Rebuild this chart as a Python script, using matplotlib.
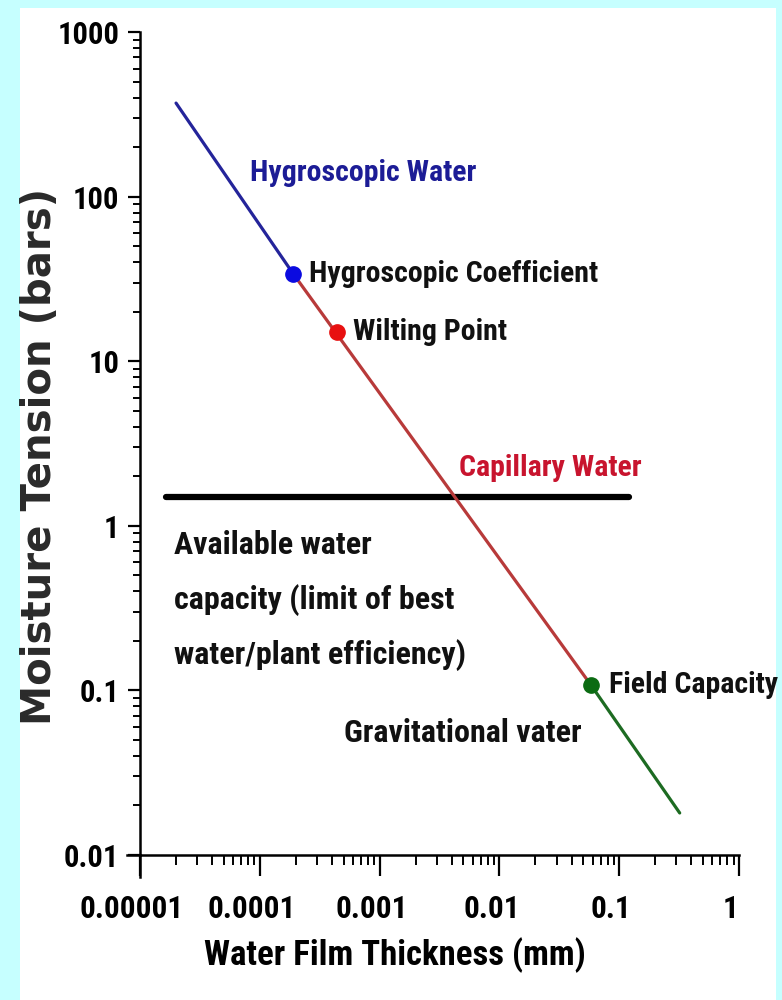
import numpy as np
import matplotlib
matplotlib.use("Agg")
import matplotlib.pyplot as plt
from matplotlib.patches import Rectangle
from matplotlib.transforms import ScaledTranslation

# line segments (water film thickness mm, moisture tension bars)
hygro_x = [2.0e-5, 1.9e-4]
hygro_y = [370, 34]
capil_x = [1.9e-4, 0.058]
capil_y = [34, 0.108]
grav_x = [0.058, 0.32]
grav_y = [0.108, 0.018]

# marked points
pt_names = ["Hygroscopic Coefficient", "Wilting Point", "Field Capacity"]
pt_x = [1.9e-4, 4.4e-4, 0.058]
pt_y = [34, 15.0, 0.108]
pt_colors = ["#0a0ae0", "#e81010", "#0b6b12"]

# available water limit line
limit_y = 1.5
limit_x = [1.65e-5, 0.12]

avail_lines = ["Available water", "capacity (limit of best", "water/plant efficiency)"]
avail_y = [0.764, 0.354, 0.164]

xticks = [1e-5, 1e-4, 1e-3, 1e-2, 1e-1, 1]
xlabels = ["0.00001", "0.0001", "0.001", "0.01", "0.1", "1"]
yticks = [0.01, 0.1, 1, 10, 100, 1000]
ylabels = ["0.01", "0.1", "1", "10", "100", "1000"]

narrow = ["Roboto Condensed", "Liberation Sans Narrow", "Roboto", "DejaVu Sans"]
fkw = dict(family=narrow, stretch="condensed", weight="bold")

fig = plt.figure(figsize=(7.82, 10), dpi=100)
fig.patch.set_facecolor("#c6ffff")
fig.add_artist(Rectangle((20 / 782, 0), 756 / 782, 0.992, transform=fig.transFigure,
                         facecolor="white", edgecolor="none", zorder=0))

ax = fig.add_axes([0.179, 0.145, 0.766, 0.823])
ax.set_facecolor("none")
ax.set_xscale("log")
ax.set_yscale("log")
ax.set_xlim(1e-5, 1)
ax.set_ylim(0.01, 1000)

ax.plot(hygro_x, hygro_y, color="#24249a", lw=2.3, solid_capstyle="round", zorder=3)
ax.plot(capil_x, capil_y, color="#b83a3a", lw=2.3, solid_capstyle="round", zorder=3)
ax.plot(grav_x, grav_y, color="#1d6b22", lw=2.3, solid_capstyle="round", zorder=3)
ax.plot(limit_x, [limit_y, limit_y], color="black", lw=4.5, solid_capstyle="round", zorder=2)
for x, y, c in zip(pt_x, pt_y, pt_colors):
    ax.plot(x, y, "o", color=c, ms=11, zorder=4)

tsize = 21.5
bsize = 23
ax.text(8.3e-5, 139, "Hygroscopic Water", color="#1c1c96", fontsize=tsize, va="center", **fkw)
ax.text(2.6e-4, 34, pt_names[0], color="#111111", fontsize=tsize, va="center", **fkw)
ax.text(5.96e-4, 15.0, pt_names[1], color="#111111", fontsize=tsize, va="center", **fkw)
ax.text(0.0826, 0.108, pt_names[2], color="#111111", fontsize=tsize, va="center", **fkw)
ax.text(4.64e-3, 2.24, "Capillary Water", color="#c8142e", fontsize=tsize, va="center", **fkw)
for line, y in zip(avail_lines, avail_y):
    ax.text(1.92e-5, y, line, color="#111111", fontsize=bsize, va="center", **fkw)
ax.text(5.0e-4, 0.055, "Gravitational vater", color="#111111", fontsize=bsize, va="center", **fkw)

# axes styling
for s in ["top", "right"]:
    ax.spines[s].set_visible(False)
for s in ["left", "bottom"]:
    ax.spines[s].set_linewidth(1.8)
ax.set_xticks(xticks)
ax.set_xticklabels(xlabels, fontsize=22.5, **fkw)
ax.set_yticks(yticks)
ax.set_yticklabels(ylabels, fontsize=22, **fkw)
ax.tick_params(axis="x", which="major", length=15, width=1.6, pad=13)
ax.tick_params(axis="x", which="minor", length=7, width=1.4)
ax.tick_params(axis="y", which="major", length=9, width=1.6, pad=6)
ax.tick_params(axis="y", which="minor", length=5, width=1.4)
off = ScaledTranslation(-8 / 100, 0, fig.dpi_scale_trans)
for lab in ax.get_xticklabels():
    lab.set_transform(lab.get_transform() + off)

# axis lines run a little past the corner
ax.plot([-0.022, 0], [0, 0], transform=ax.transAxes, color="black", lw=1.8, clip_on=False)
ax.plot([0, 0], [-0.027, 0], transform=ax.transAxes, color="black", lw=1.8, clip_on=False)

ax.set_xlabel("Water Film Thickness (mm)", fontsize=25, va="center", **fkw)
ax.xaxis.set_label_coords(0.426, -0.1215)
ax.set_ylabel("Moisture Tension (bars)", family="DejaVu Sans", fontsize=29,
              weight="bold", color="#2a2a2a", va="center")
ax.yaxis.set_label_coords(-0.167, 0.484)

fig.savefig("out.png", dpi=100, facecolor=fig.get_facecolor())
